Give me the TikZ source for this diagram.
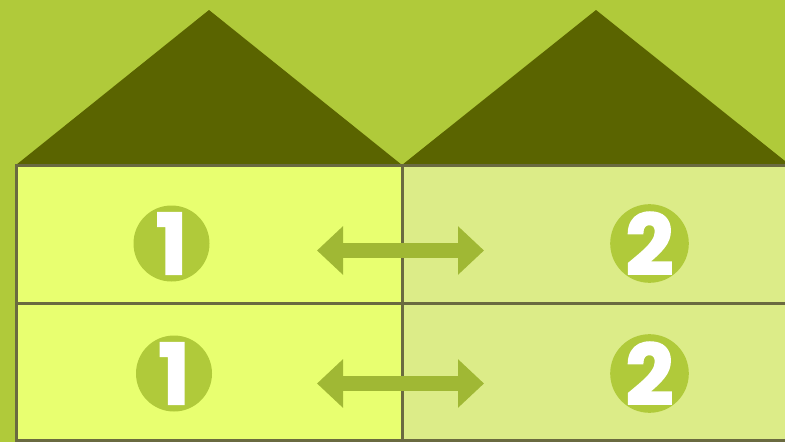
\documentclass[tikz,border=0pt]{standalone}
\usepackage{fontspec}
\setmainfont{Poppins}
\newfontfamily\badgefont[FakeBold=2.2]{Poppins Bold}
\usetikzlibrary{arrows.meta}
\definecolor{bgGreen}{HTML}{B0CA3A}
\definecolor{roofDark}{HTML}{5A6400}
\definecolor{roomA}{HTML}{E8FF70}
\definecolor{roomB}{HTML}{DCEC88}
\definecolor{wallLine}{HTML}{6A6A40}
\definecolor{arrowGreen}{HTML}{A0B834}
\tikzset{
  roof/.style={fill=roofDark},
  room/.style={draw=wallLine, line width=3pt},
  badge/.style={circle, fill=bgGreen, minimum size=76pt, inner sep=0pt,
    text=white, font=\badgefont\fontsize{84}{84}\selectfont},
  swap/.style={draw=arrowGreen, line width=15pt,
    {Triangle[width=47pt,length=26pt]}-{Triangle[width=47pt,length=26pt]}}
}
\begin{document}
\begin{tikzpicture}[x=1pt,y=-1pt]
  \useasboundingbox (0,0) rectangle (785,442);
  \fill[bgGreen] (0,0) rectangle (785,442);
  % roofs
  \fill[roof] (16,165) -- (209,10) -- (402,165) -- cycle;
  \fill[roof] (402,165) -- (596,10) -- (790,165) -- cycle;
  % rooms
  \filldraw[room, fill=roomA] (16,165) rectangle (402,303);
  \filldraw[room, fill=roomA] (16,303) rectangle (402,440);
  \filldraw[room, fill=roomB] (402,165) rectangle (790,303);
  \filldraw[room, fill=roomB] (402,303) rectangle (790,440);
  % number badges
  \node[badge] (u1) at (171.5,243.5) {1};
  \node[badge] (u2) at (649.5,243.5) {2};
  \node[badge] (l1) at (174,373.5) {1};
  \node[badge] (l2) at (649.5,373.5) {2};
  % exchange arrows
  \coordinate (ua) at (317,250.5);
  \coordinate (ub) at (484,250.5);
  \coordinate (la) at (317,383.5);
  \coordinate (lb) at (484,383.5);
  \draw[swap] (ua) -- (ub);
  \draw[swap] (la) -- (lb);
\end{tikzpicture}
\end{document}
